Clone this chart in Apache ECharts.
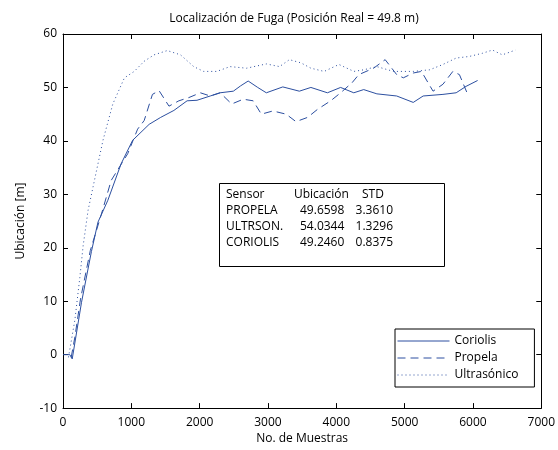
<!DOCTYPE html>
<html><head><meta charset="utf-8">
<script src="https://cdn.jsdelivr.net/npm/echarts@6/dist/echarts.min.js"></script>
<style>html,body{margin:0;padding:0;background:#fff}#c{width:558px;height:450px}</style>
</head><body><div id="c"></div>
<script>
const titleText = 'Localización de Fuga (Posición Real = 49.8 m)';
const xTicks = [0,1000,2000,3000,4000,5000,6000,7000];
const yTicks = [-10,0,10,20,30,40,50,60];
const seriesNames = ['Coriolis','Propela','Ultrasónico'];

const coriolisX = [0,100,135,271,416,512,657,850,1019,1261,1430,1623,1816,1961,2155,2300,2493,2600,2710,2850,2976,3217,3459,3628,3870,4063,4256,4401,4594,4884,5126,5271,5561,5754,5899,6068];
const coriolisY = [0,0,-0.8,9.8,19.3,24.8,28.9,35.7,40.1,43.1,44.4,45.7,47.5,47.6,48.4,49.0,49.3,50.3,51.2,50.0,49.0,50.1,49.3,50.0,49.0,50.0,49.0,49.6,48.8,48.4,47.2,48.4,48.7,49.0,50.2,51.3];

const propelaX = [120,174,256,400,560,705,947,1092,1188,1309,1406,1551,1696,1841,2010,2155,2300,2469,2638,2783,2903,3072,3266,3410,3580,3725,3918,4063,4232,4329,4546,4715,4884,4981,5126,5246,5416,5561,5706,5802,5923];
const propelaY = [-0.5,3.3,10.4,19.5,26.2,32.6,37.6,42.2,43.8,48.7,49.4,46.5,47.5,48.1,49.0,48.4,49.0,46.9,47.8,47.5,45.0,45.6,45.0,43.6,44.4,45.9,47.5,49.0,50.9,52.4,53.6,55.2,52.4,51.8,52.7,53.0,49.3,50.6,53.0,52.4,48.7];

const ultraX = [80,174,246,295,367,440,585,729,899,1043,1188,1333,1526,1720,1913,2058,2251,2445,2686,2976,3169,3314,3483,3628,3822,4039,4256,4401,4594,4836,5126,5367,5561,5754,5947,6140,6285,6430,6623];
const ultraY = [-0.5,6.5,14.4,20.4,27.0,31.4,40.1,46.9,51.8,53.0,54.9,56.1,56.9,56.1,53.9,53.0,53.0,53.9,53.6,54.4,53.9,55.2,54.6,53.6,53.0,54.3,53.0,53.3,53.9,53.0,53.0,53.3,54.3,55.5,55.8,56.4,57.0,56.1,57.0];

const tableHeader = ['Sensor','Ubicación','STD'];
const tableSensors = ['PROPELA','ULTRSON.','CORIOLIS'];
const tableUbic = ['49.6598','54.0344','49.2460'];
const tableStd = ['3.3610','1.3296','0.8375'];

const FONT = '"Open Sans", sans-serif';
const COLOR = '#2c4fa0';
const zip = (a,b) => a.map((v,i)=>[v,b[i]]);

const chart = echarts.init(document.getElementById('c'), null, {renderer:'canvas'});

const axisCommon = {
  axisLine:{show:true,onZero:false,lineStyle:{color:'#000',width:1}},
  axisTick:{show:true,inside:true,length:5,lineStyle:{color:'#000'}},
  splitLine:{show:false}
};

const graphics = [{
  type:'rect', shape:{x:219.5,y:183.5,width:225,height:83},
  style:{fill:'#fff',stroke:'#000',lineWidth:1}, z:100
}];
const colX = [226, 294, 362];
const rowY = [195, 211, 227, 243];
tableHeader.forEach((t,i)=>graphics.push({type:'text',x:colX[i],y:rowY[0],z:101,
  style:{text:t,font:'12px '+FONT,fill:'#000',textVerticalAlign:'middle',textAlign:'left'}}));
tableSensors.forEach((s,r)=>{
  graphics.push({type:'text',x:226,y:rowY[r+1],z:101,style:{text:s,font:'12px '+FONT,fill:'#000',textVerticalAlign:'middle'}});
  graphics.push({type:'text',x:300,y:rowY[r+1],z:101,style:{text:tableUbic[r],font:'12px '+FONT,fill:'#000',textVerticalAlign:'middle'}});
  graphics.push({type:'text',x:393,y:rowY[r+1],z:101,style:{text:tableStd[r],font:'12px '+FONT,fill:'#000',textVerticalAlign:'middle',textAlign:'right'}});
});

chart.setOption({
  animation:false,
  backgroundColor:'#fff',
  textStyle:{fontFamily:FONT},
  title:{text:titleText,left:289,top:8,textAlign:'center',
    textStyle:{fontFamily:FONT,fontSize:12,fontWeight:'normal',color:'#000'}},
  grid:{left:63,right:13,top:34,bottom:38,containLabel:false},
  legend:{
    orient:'vertical', left:395, top:329,
    data:seriesNames,
    backgroundColor:'#fff', borderColor:'#000', borderWidth:1, borderRadius:0,
    padding:[6,16,6,2], itemGap:5, itemWidth:52, itemHeight:14, itemTextGap:2,
    itemStyle:{opacity:0, color:'rgba(0,0,0,0)', borderWidth:0},
    lineStyle:{width:1},
    textStyle:{fontFamily:FONT,fontSize:12,color:'#000'}
  },
  xAxis:[
    Object.assign({type:'value',min:0,max:7000,interval:1000,position:'bottom',
      name:'No. de Muestras',nameLocation:'middle',nameGap:18,
      nameTextStyle:{fontFamily:FONT,fontSize:12,color:'#000'},
      axisLabel:{fontFamily:FONT,fontSize:12,color:'#000',margin:8,formatter:v=>String(v)}},axisCommon),
    Object.assign({type:'value',min:0,max:7000,interval:1000,position:'top',
      axisLabel:{show:false}},axisCommon)
  ],
  yAxis:[
    Object.assign({type:'value',min:-10,max:60,interval:10,position:'left',
      name:'Ubicación [m]',nameLocation:'middle',nameGap:36,
      nameTextStyle:{fontFamily:FONT,fontSize:12,color:'#000'},
      axisLabel:{fontFamily:FONT,fontSize:12,color:'#000',margin:6,formatter:v=>String(v)}},axisCommon),
    Object.assign({type:'value',min:-10,max:60,interval:10,position:'right',
      axisLabel:{show:false}},axisCommon)
  ],
  series:[
    {name:seriesNames[0],type:'line',data:zip(coriolisX,coriolisY),showSymbol:false,symbol:'none',
      lineStyle:{color:COLOR,width:1,type:'solid'},itemStyle:{color:COLOR}},
    {name:seriesNames[1],type:'line',data:zip(propelaX,propelaY),showSymbol:false,symbol:'none',
      lineStyle:{color:COLOR,width:1,type:[8,5]},itemStyle:{color:COLOR}},
    {name:seriesNames[2],type:'line',data:zip(ultraX,ultraY),showSymbol:false,symbol:'none',
      lineStyle:{color:COLOR,width:1,type:[1,3]},itemStyle:{color:COLOR}}
  ],
  graphic:graphics
});
</script></body></html>
